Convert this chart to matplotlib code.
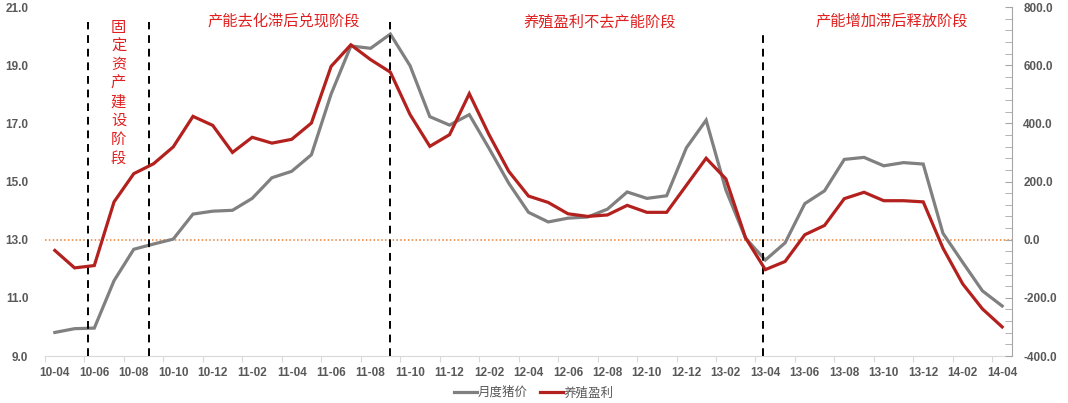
import matplotlib.pyplot as plt
from matplotlib.ticker import FixedLocator, MultipleLocator

plt.rcParams['font.family'] = ['Liberation Sans', 'Noto Sans CJK SC', 'DejaVu Sans']

# monthly, 2010-04 .. 2014-04
months = []
for y in range(10, 15):
    for m in range(1, 13):
        if (y == 10 and m < 4) or (y == 14 and m > 4):
            continue
        months.append(f"{y:02d}-{m:02d}")

# 月度猪价 (left axis)
price = [9.81, 9.94, 9.96, 11.59, 12.67, 12.85, 13.02, 13.88, 13.98, 14.01,
         14.42, 15.13, 15.35, 15.92, 18.01, 19.66, 19.58, 20.07, 18.98, 17.23,
         16.94, 17.30, 16.14, 14.94, 13.94, 13.61, 13.74, 13.78, 14.05, 14.64,
         14.42, 14.51, 16.16, 17.11, 14.71, 13.05, 12.30, 12.89, 14.24, 14.68,
         15.76, 15.83, 15.54, 15.65, 15.60, 13.22, 12.22, 11.24, 10.72]

# 养殖盈利 (right axis)
profit = [-37, -97, -89, 130, 227, 261, 319, 424, 393, 300,
          352, 332, 345, 401, 596, 670, 619, 576, 430, 321,
          361, 502, 361, 235, 150, 128, 89, 80, 85, 118,
          94, 94, 187, 280, 209, 6, -103, -75, 17, 49,
          141, 163, 134, 134, 130, -29, -152, -238, -300]

# stage dividers (category position) and stage labels
dividers = [1.68, 4.77, 17.0, 35.87]
divider_tops = [20.48, 20.48, 20.5, 20.2]
stage_labels = ["产能去化滞后兑现阶段", "养殖盈利不去产能阶段", "产能增加滞后释放阶段"]
stage_x = [11.6, 27.6, 42.4]
vertical_label = "固定资产建设阶段"

gray = '#808080'
red = '#B3211E'
txt = '#595959'

fig = plt.figure(figsize=(10.68, 4.03), dpi=100)
ax = fig.add_axes([0.0421, 0.1166, 0.9055, 0.866])
ax2 = ax.twinx()

x = list(range(len(months)))
ax.plot(x, price, color=gray, lw=2.3, solid_joinstyle='miter', zorder=3)
ax2.plot(x, profit, color=red, lw=2.3, solid_joinstyle='miter', zorder=3)
ax.axhline(13.0, color='#ED7D31', lw=1.1, ls=(0, (1, 1.5)), zorder=1)

for d, top in zip(dividers, divider_tops):
    ax.plot([d, d], [9.0, top], color='black', lw=1.4, ls=(0, (4, 3)), zorder=4)

for s, sx in zip(stage_labels, stage_x):
    ax.text(sx, 20.5, s, color='#E02020', fontsize=11, ha='center', va='center',
            family=['Noto Sans CJK SC'])
ax.text(3.23, 20.6, "\n".join(vertical_label), color='#E02020', fontsize=11,
        ha='center', va='top', linespacing=1.13, family=['Noto Sans CJK SC'])

ax.set_xlim(-0.5, len(months) - 0.5)
ax.set_ylim(9.0, 21.0)
ax2.set_ylim(-400, 800)

# x axis: ticks between categories, labels every second month
ax.xaxis.set_major_locator(FixedLocator([i - 0.5 for i in range(0, len(months) + 1, 2)]))
ax.xaxis.set_minor_locator(FixedLocator(list(range(0, len(months), 2))))
ax.set_xticklabels([])
ax.set_xticklabels([months[i] for i in range(0, len(months), 2)], minor=True)
ax.tick_params(axis='x', which='major', length=4, color='#d9d9d9', direction='out')
ax.tick_params(axis='x', which='minor', length=0, pad=8, labelsize=8.5,
               labelcolor=txt)
for lab in ax.get_xticklabels(minor=True):
    lab.set_fontweight('bold')

ax.set_yticks([9, 11, 13, 15, 17, 19, 21])
ax.set_yticklabels([f"{v:.1f}" for v in [9, 11, 13, 15, 17, 19, 21]])
ax.tick_params(axis='y', length=0, pad=12, labelsize=8.5, labelcolor=txt)
for lab in ax.get_yticklabels():
    lab.set_fontweight('bold')

ax2.set_yticks(range(-400, 801, 200))
ax2.set_yticklabels([f"{v:.1f}" for v in range(-400, 801, 200)])
ax2.yaxis.set_minor_locator(MultipleLocator(40))
ax2.tick_params(axis='y', which='both', direction='in', length=5, color='#a6a6a6',
                pad=8, labelsize=8.5, labelcolor=txt)
for lab in ax2.get_yticklabels():
    lab.set_fontweight('bold')

for a in (ax, ax2):
    for side in ('top', 'left'):
        a.spines[side].set_visible(False)
    a.spines['right'].set_visible(False)
    a.spines['bottom'].set_color('#d9d9d9')
ax2.spines['right'].set_visible(True)
ax2.spines['right'].set_color('#a6a6a6')
ax2.spines['bottom'].set_visible(False)

h1, = ax.plot([], [], color=gray, lw=2.3)
h2, = ax.plot([], [], color=red, lw=2.3)
fig.legend([h1, h2], ["月度猪价", "养殖盈利"], loc='center', bbox_to_anchor=(0.5, 0.025),
           ncol=2, frameon=False, fontsize=9, handlelength=1.8, handletextpad=0.1,
           columnspacing=1.0, labelcolor=txt)

fig.savefig('out.png', dpi=100)
